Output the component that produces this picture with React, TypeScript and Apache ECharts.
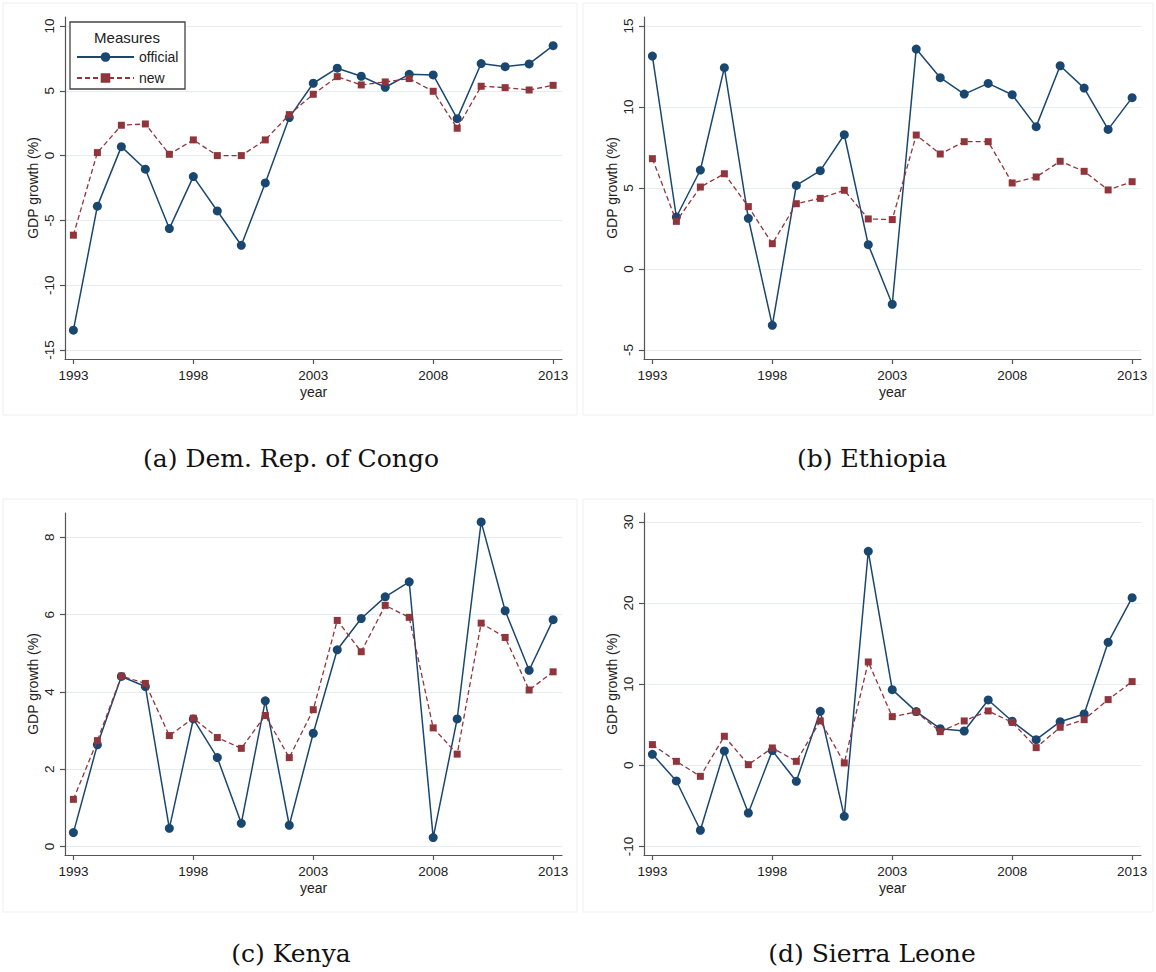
import React, { useEffect, useRef } from "react";
import * as echarts from "echarts";

const years = [1993, 1994, 1995, 1996, 1997, 1998, 1999, 2000, 2001, 2002, 2003, 2004, 2005, 2006, 2007, 2008, 2009, 2010, 2011, 2012, 2013];

const congoOfficial = [-13.47, -3.9, 0.69, -1.05, -5.63, -1.62, -4.27, -6.92, -2.11, 2.93, 5.58, 6.74, 6.12, 5.27, 6.27, 6.22, 2.85, 7.1, 6.86, 7.07, 8.48];
const congoNew = [-6.14, 0.23, 2.34, 2.44, 0.1, 1.21, 0.0, 0.0, 1.21, 3.16, 4.73, 6.09, 5.45, 5.68, 5.94, 4.96, 2.11, 5.35, 5.24, 5.06, 5.42];

const ethiopiaOfficial = [13.15, 3.21, 6.11, 12.43, 3.13, -3.48, 5.16, 6.07, 8.29, 1.5, -2.18, 13.58, 11.81, 10.8, 11.46, 10.76, 8.79, 12.55, 11.17, 8.62, 10.58];
const ethiopiaNew = [6.81, 2.94, 5.06, 5.88, 3.85, 1.56, 4.03, 4.36, 4.86, 3.09, 3.05, 8.27, 7.1, 7.86, 7.86, 5.31, 5.68, 6.65, 6.03, 4.88, 5.39];

const kenyaOfficial = [0.36, 2.63, 4.4, 4.14, 0.47, 3.3, 2.3, 0.6, 3.77, 0.55, 2.93, 5.09, 5.9, 6.46, 6.85, 0.23, 3.3, 8.4, 6.1, 4.56, 5.87];
const kenyaNew = [1.22, 2.74, 4.41, 4.22, 2.87, 3.32, 2.82, 2.54, 3.39, 2.3, 3.54, 5.85, 5.04, 6.24, 5.93, 3.07, 2.39, 5.78, 5.41, 4.05, 4.52];

const sierraOfficial = [1.36, -1.93, -8.01, 1.77, -5.88, 1.81, -1.97, 6.66, -6.29, 26.39, 9.33, 6.62, 4.52, 4.23, 8.06, 5.43, 3.16, 5.38, 6.33, 15.17, 20.67];
const sierraNew = [2.55, 0.49, -1.36, 3.58, 0.08, 2.14, 0.49, 5.47, 0.29, 12.74, 6.0, 6.58, 4.15, 5.47, 6.7, 5.3, 2.18, 4.69, 5.63, 8.1, 10.32];

const panelTitles = ["(a) Dem. Rep. of Congo", "(b) Ethiopia", "(c) Kenya", "(d) Sierra Leone"];
const xTicks = [1993, 1998, 2003, 2008, 2013];
const yTicks = [
  [-15, -10, -5, 0, 5, 10],
  [-5, 0, 5, 10, 15],
  [0, 2, 4, 6, 8],
  [-10, 0, 10, 20, 30],
];
const yRanges = [
  [-15.69, 10.69],
  [-5.56, 15.56],
  [-0.22, 8.63],
  [-11.06, 31.11],
];
const seriesNames = ["official", "new"];
const axisTitleX = "year";
const axisTitleY = "GDP growth (%)";
const legendTitle = "Measures";

const officialData = [congoOfficial, ethiopiaOfficial, kenyaOfficial, sierraOfficial];
const newData = [congoNew, ethiopiaNew, kenyaNew, sierraNew];

const NAVY = "#1a476f";
const MAROON = "#90353b";
const AXIS = "#555555";
const LABEL = "#222222";
const GRIDLINE = "#e4eef0";

const grids = [
  { left: 65, top: 17, width: 497, height: 342 },
  { left: 644, top: 17, width: 497, height: 342 },
  { left: 65, top: 513, width: 497, height: 342 },
  { left: 644, top: 513, width: 497, height: 342 },
];
const titlePos = [
  [291, 458],
  [872, 458],
  [291, 953],
  [872, 953],
];
const panelBoxes = [
  [3, 3, 574, 412],
  [583, 3, 570, 412],
  [3, 499, 574, 413],
  [583, 499, 570, 413],
];

export default function App() {
  const ref = useRef<HTMLDivElement>(null);
  useEffect(() => {
    if (!ref.current) return;
    const chart = echarts.init(ref.current, undefined, { renderer: "svg" });

    const xAxes = grids.map((_, i) => ({
      type: "value",
      gridIndex: i,
      min: 1992.65,
      max: 2013.37,
      name: axisTitleX,
      nameLocation: "middle",
      nameGap: 26,
      nameTextStyle: { color: LABEL, fontSize: 14, fontFamily: "Liberation Sans" },
      axisLine: { show: true, onZero: false, lineStyle: { color: AXIS, width: 1.2 } },
      axisTick: { show: true, length: 5, customValues: xTicks, lineStyle: { color: AXIS, width: 1.2 } },
      axisLabel: {
        customValues: xTicks,
        margin: 9,
        color: LABEL,
        fontSize: 13.5,
        fontFamily: "Liberation Sans",
        formatter: (v: number) => String(Math.round(v)),
      },
      splitLine: { show: false },
    }));

    const yAxes = grids.map((_, i) => ({
      type: "value",
      gridIndex: i,
      min: yRanges[i][0],
      max: yRanges[i][1],
      name: axisTitleY,
      nameLocation: "middle",
      nameGap: 25,
      nameTextStyle: { color: LABEL, fontSize: 14, fontFamily: "Liberation Sans" },
      axisLine: { show: true, onZero: false, lineStyle: { color: AXIS, width: 1.2 } },
      axisTick: { show: true, length: 5, customValues: yTicks[i], lineStyle: { color: AXIS, width: 1.2 } },
      axisLabel: {
        customValues: yTicks[i],
        rotate: 90,
        margin: 9,
        color: LABEL,
        fontSize: 13.5,
        fontFamily: "Liberation Sans",
        formatter: (v: number) => String(Math.round(v)),
      },
      splitLine: { show: true, lineStyle: { color: GRIDLINE, width: 1 } },
    }));

    const series: any[] = [];
    grids.forEach((_, i) => {
      series.push({
        type: "line",
        name: seriesNames[0],
        xAxisIndex: i,
        yAxisIndex: i,
        data: years.map((y, k) => [y, officialData[i][k]]),
        symbol: "circle",
        symbolSize: 9,
        lineStyle: { color: NAVY, width: 1.5 },
        itemStyle: { color: NAVY },
        z: 2,
      });
      series.push({
        type: "line",
        name: seriesNames[1],
        xAxisIndex: i,
        yAxisIndex: i,
        data: years.map((y, k) => [y, newData[i][k]]),
        symbol: "rect",
        symbolSize: 7,
        lineStyle: { color: MAROON, width: 1.3, type: [5, 3] },
        itemStyle: { color: MAROON },
        z: 3,
      });
    });

    const graphics: any[] = [];
    panelBoxes.forEach((b) => {
      graphics.push({
        type: "rect",
        shape: { x: b[0], y: b[1], width: b[2], height: b[3] },
        style: { fill: "none", stroke: "#efefef", lineWidth: 1 },
        z: -10,
        silent: true,
      });
    });
    panelTitles.forEach((t, i) => {
      graphics.push({
        type: "text",
        x: titlePos[i][0],
        y: titlePos[i][1],
        style: {
          text: t,
          fill: "#111",
          font: "25px 'DejaVu Serif'",
          align: "center",
          verticalAlign: "middle",
        },
      });
    });
    graphics.push({
      type: "rect",
      shape: { x: 70, y: 22, width: 115, height: 67 },
      style: { fill: "#ffffff", stroke: "#444", lineWidth: 1.3 },
      z: 10,
    });
    graphics.push({
      type: "text",
      x: 127,
      y: 37,
      style: {
        text: legendTitle,
        fill: "#222",
        font: "15px 'Liberation Sans'",
        align: "center",
        verticalAlign: "middle",
      },
      z: 11,
    });

    chart.setOption({
      animation: false,
      backgroundColor: "#ffffff",
      grid: grids,
      xAxis: xAxes,
      yAxis: yAxes,
      series,
      legend: {
        data: seriesNames,
        orient: "vertical",
        left: 76,
        top: 50,
        itemWidth: 57,
        itemHeight: 12,
        itemGap: 7,
        padding: 0,
        z: 12,
        selectedMode: false,
        textStyle: { color: "#222", fontSize: 14, fontFamily: "Liberation Sans" },
      },
      graphic: graphics,
    });

    return () => chart.dispose();
  }, []);

  return (
    <div
      ref={ref}
      style={{ position: "fixed", left: 0, top: 0, width: 1156, height: 972, background: "#fff" }}
    />
  );
}
